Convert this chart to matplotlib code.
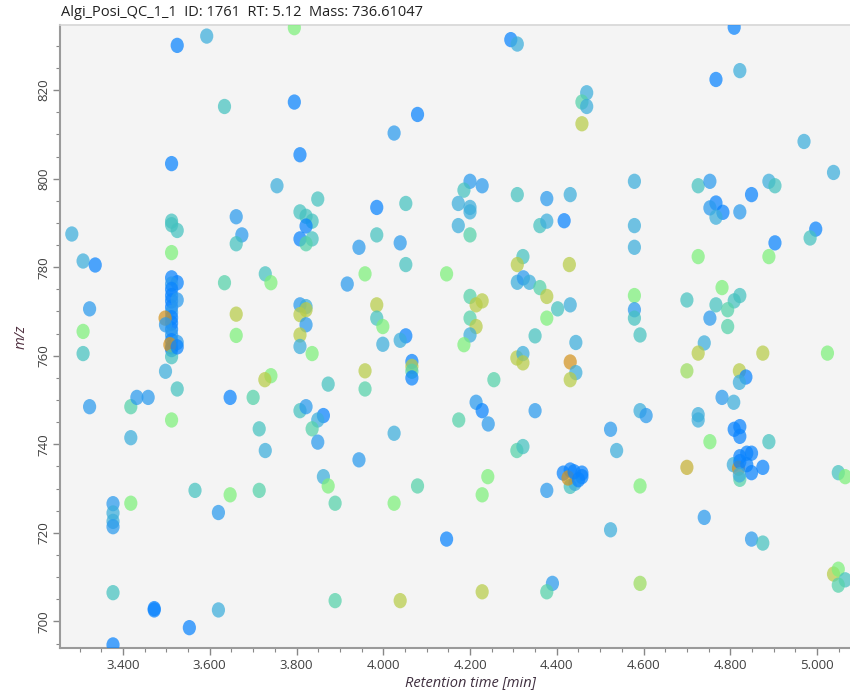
import numpy as np
import matplotlib
matplotlib.use("Agg")
import matplotlib.pyplot as plt
from matplotlib.path import Path
from matplotlib.colors import LinearSegmentedColormap
from matplotlib.ticker import MultipleLocator, FormatStrFormatter

plt.rcParams["font.family"] = ["Open Sans", "DejaVu Sans"]

title = "Algi_Posi_QC_1_1  ID: 1761  RT: 5.12  Mass: 736.61047"

# colour score: 0 = blue ... 0.45 teal ... 0.7 green ... 1 orange
B, b, s, t, tg, g, o, O = 0.0, 0.15, 0.3, 0.45, 0.55, 0.7, 0.85, 1.0

rt = [3.525, 3.593, 3.795, 3.634, 3.795, 3.512, 3.808, 3.755, 3.849, 3.808,
      3.822, 3.836, 3.822, 3.808, 3.836, 3.822, 3.661, 3.674, 3.661, 3.512,
      3.512, 3.525, 3.512, 3.282, 3.308, 3.336, 3.323, 3.308, 3.634, 3.728,
      3.741, 3.661, 3.661, 3.808, 3.822, 3.822, 3.808, 3.822, 3.808, 3.525,
      3.512, 3.512, 3.512, 3.512, 3.512, 3.512, 3.512, 3.512, 3.512, 3.512,
      3.512, 3.512, 3.512, 3.512, 3.525, 3.525, 3.497, 3.498, 3.508, 3.512,
      3.525,
      4.294, 4.309, 4.469, 4.458, 4.469, 4.458, 4.079, 4.025, 3.985, 4.052,
      4.200, 4.228, 4.186, 4.173, 4.200, 4.200, 4.173, 4.200, 4.309, 4.377,
      4.431, 4.361, 4.377, 4.417, 3.985, 3.944, 4.039, 4.052, 3.917, 3.958,
      4.146, 4.322, 4.309, 4.429, 4.309, 4.323, 4.337, 4.361, 4.377, 4.402,
      4.431, 4.377, 4.200, 4.214, 4.228, 4.200, 4.214, 4.200, 3.985, 3.985,
      3.999, 4.052, 4.039, 4.350, 4.444,
      4.809, 4.767, 4.822, 4.970, 5.038, 4.579, 4.726, 4.753, 4.889, 4.903,
      4.849, 4.767, 4.753, 4.783, 4.767, 4.822, 4.579, 4.579, 4.997, 4.984,
      4.903, 4.889, 4.726, 4.781, 4.822, 4.809, 4.767, 4.794, 4.753, 4.794,
      4.700, 4.579, 4.579, 4.579, 4.592, 4.740,
      3.308, 3.498, 3.525, 3.808, 3.836, 3.741, 3.727, 3.873, 3.323, 3.418,
      3.432, 3.458, 3.647, 3.700, 3.808, 3.822, 3.862, 3.849, 3.836, 3.849,
      3.512, 3.418, 3.714, 3.728, 3.862, 3.873, 3.566, 3.647, 3.714, 3.620,
      3.418, 3.377, 3.377, 3.377, 3.377, 3.377, 3.472, 3.472, 3.620, 3.553,
      3.377,
      3.999, 4.066, 4.066, 4.066, 4.066, 3.958, 3.958, 4.186, 4.255, 4.308,
      4.322, 4.322, 4.431, 4.444, 4.431, 4.025, 3.944, 4.214, 4.228, 4.242,
      4.174, 4.350, 4.308, 4.322, 3.889, 4.079, 4.025, 4.241, 4.228, 4.377,
      4.415, 4.431, 4.458, 4.458, 4.431, 4.442, 4.426, 4.440, 4.450, 4.146,
      3.889, 4.039, 4.228, 4.390, 4.377,
      4.726, 4.875, 5.024, 4.700, 4.821, 4.836, 4.821, 4.781, 4.808, 4.592,
      4.606, 4.524, 4.538, 4.726, 4.726, 4.753, 4.889,
      4.809, 4.822, 4.822, 4.822, 4.838, 4.849, 4.807, 4.819, 4.822, 4.838,
      4.849, 4.875, 4.822, 4.821,
      4.592, 4.700, 5.049, 5.065, 4.740, 4.524, 4.849, 4.875, 4.592, 5.038,
      5.049, 5.065, 5.049]

mz = [830.1, 832.2, 834.1, 816.3, 817.3, 803.4, 805.4, 798.4, 795.4, 792.5,
      791.5, 790.4, 789.3, 786.4, 786.4, 785.3, 791.4, 787.3, 785.3, 790.4,
      789.6, 788.3, 783.3, 787.5, 781.4, 780.5, 770.6, 765.5, 776.5, 778.5,
      776.5, 769.4, 764.6, 771.5, 771.1, 770.4, 769.3, 767.0, 764.7, 776.5,
      777.6, 776.2, 775.0, 773.6, 772.4, 771.0, 769.8, 768.6, 767.4, 766.0,
      764.7, 763.4, 762.0, 761.4, 772.6, 763.0, 768.5, 767.0, 762.5, 759.8,
      762.0,
      831.4, 830.4, 819.4, 817.3, 816.3, 812.4, 814.5, 810.3, 793.5, 794.4,
      799.4, 798.4, 797.4, 794.4, 793.5, 792.5, 789.4, 787.3, 796.4, 795.5,
      796.4, 789.4, 790.4, 790.5, 787.3, 784.5, 785.5, 780.6, 776.2, 778.5,
      778.5, 782.4, 780.6, 780.6, 776.6, 777.6, 776.6, 775.4, 773.4, 770.6,
      771.5, 768.5, 773.4, 771.5, 772.4, 768.5, 766.6, 764.7, 771.5, 768.5,
      766.6, 764.5, 763.5, 764.5, 763.0,
      834.2, 822.4, 824.4, 808.4, 801.4, 799.4, 798.4, 799.4, 799.4, 798.4,
      796.4, 794.5, 793.4, 792.4, 791.3, 792.5, 789.4, 784.5, 788.6, 786.6,
      785.5, 782.4, 782.4, 775.4, 773.6, 772.4, 771.5, 770.4, 768.5, 766.6,
      772.6, 773.6, 770.4, 768.5, 764.7, 762.9,
      760.5, 756.5, 752.5, 762.1, 760.5, 755.5, 754.6, 753.6, 748.5, 748.5,
      750.6, 750.6, 750.6, 750.6, 747.6, 748.5, 746.5, 745.5, 743.5, 740.5,
      745.5, 741.5, 743.5, 738.6, 732.7, 730.6, 729.6, 728.6, 729.6, 724.6,
      726.7, 726.6, 724.5, 722.6, 721.4, 706.5, 702.6, 702.9, 702.6, 698.6,
      694.7,
      762.6, 758.7, 757.6, 756.5, 755.0, 756.6, 752.5, 762.5, 754.6, 759.5,
      760.5, 758.4, 758.6, 756.2, 754.6, 742.5, 736.5, 749.5, 747.6, 744.6,
      745.5, 747.6, 738.6, 739.5, 726.7, 730.6, 726.7, 732.7, 728.6, 729.6,
      733.5, 734.2, 733.5, 732.7, 730.5, 731.2, 732.4, 733.8, 732.0, 718.6,
      704.7, 704.7, 706.7, 708.6, 706.7,
      760.6, 760.6, 760.6, 756.6, 756.6, 755.2, 754.0, 750.6, 749.5, 747.6,
      746.5, 743.4, 738.6, 746.7, 745.5, 740.6, 740.6,
      743.4, 744.0, 741.8, 737.2, 738.0, 738.0, 735.4, 734.6, 736.1, 735.4,
      733.6, 734.8, 732.1, 733.1,
      730.6, 734.8, 733.6, 732.7, 723.5, 720.7, 718.6, 717.7, 708.6, 710.7,
      711.8, 709.4, 708.2]

score = [B, s, g, t, B, B, B, s, t, t,
         t, t, B, B, t, tg, b, b, t, t,
         t, t, g, s, s, B, b, g, tg, t,
         g, o, g, b, s, o, o, b, o, B,
         B, b, B, B, B, B, b, B, B, B,
         b, B, B, B, b, b, O, b, O, t,
         B,
         B, s, s, tg, s, o, B, b, B, t,
         b, b, t, s, s, s, s, tg, t, b,
         s, t, s, B, t, b, b, t, b, g,
         g, t, o, o, s, b, s, tg, o, t,
         s, g, tg, o, o, tg, o, s, o, t,
         g, B, s, t, s,
         B, B, s, s, s, s, t, b, s, t,
         B, B, b, B, s, b, s, s, B, t,
         B, g, g, g, t, t, t, tg, b, tg,
         t, g, b, t, t, s,
         t, s, t, s, g, g, o, t, b, tg,
         b, b, B, tg, t, b, B, s, tg, b,
         g, s, t, s, s, g, t, g, tg, b,
         g, b, s, s, b, t, B, B, s, B,
         B,
         s, B, o, tg, B, o, tg, g, tg, o,
         s, o, O, s, o, s, b, b, B, b,
         tg, b, tg, t, tg, tg, g, g, g, b,
         B, B, B, B, t, s, O, B, B, B,
         tg, o, o, b, tg,
         o, o, g, 0.78, o, B, s, b, s, s,
         b, b, s, s, s, g, t,
         B, B, B, B, B, B, s, O, B, B,
         B, B, tg, s,
         g, 0.92, t, g, b, s, b, t, 0.78, o,
         g, t, tg]

cmap = LinearSegmentedColormap.from_list(
    "rtmz",
    [(0.0, "#0a84ff"), (0.15, "#2a9aee"), (0.3, "#3caedc"), (0.45, "#45c2c0"),
     (0.55, "#55d2aa"), (0.7, "#7cf07c"), (0.85, "#b8cc48"), (1.0, "#d49420")])

# ellipse marker, a bit taller than wide
circ = Path.unit_circle()
ell = Path(circ.vertices * np.array([0.86, 1.0]), circ.codes)

fig = plt.figure(figsize=(8.5, 6.91), dpi=100, facecolor="white")
ax = fig.add_axes([0.0706, 0.0622, 0.9294, 0.9016])
ax.set_facecolor("#f4f4f4")

ax.scatter(rt, mz, c=score, cmap=cmap, vmin=0, vmax=1, marker=ell, s=122,
           alpha=0.72, linewidths=0, zorder=3)

ax.set_xlim(3.2548, 5.076)
ax.set_ylim(694.0, 834.7)

ax.xaxis.set_major_locator(MultipleLocator(0.2))
ax.xaxis.set_minor_locator(MultipleLocator(0.05))
ax.xaxis.set_major_formatter(FormatStrFormatter("%.3f"))
ax.yaxis.set_major_locator(MultipleLocator(20))
ax.yaxis.set_minor_locator(MultipleLocator(5))

ax.spines["right"].set_visible(False)
ax.spines["top"].set_color("#d6d6d6")
ax.spines["top"].set_linewidth(1.2)
for side in ["left", "bottom"]:
    ax.spines[side].set_color("#9a9a9a")
    ax.spines[side].set_linewidth(1.5)

ax.tick_params(axis="both", which="major", length=5, width=1, color="#888888",
               labelsize=9.5, labelcolor="#404040", direction="out")
ax.tick_params(axis="both", which="minor", length=3, width=0.8, color="#888888",
               direction="out")
ax.tick_params(axis="x", pad=3)
ax.tick_params(axis="y", pad=2)
for lab in ax.get_yticklabels():
    lab.set_rotation(90)
    lab.set_va("center")

ax.set_xlabel("Retention time [min]", fontsize=10.5, style="italic",
              color="#403040")
ax.xaxis.set_label_coords(0.52, -0.043)
ax.set_ylabel("m/z", fontsize=10.5, style="italic", color="#503040", labelpad=6)

fig.text(61 / 850, 1 - 13 / 691, title, fontsize=10.5, color="#202020",
         ha="left", va="center")

fig.savefig("out.png", dpi=100, facecolor="white")
